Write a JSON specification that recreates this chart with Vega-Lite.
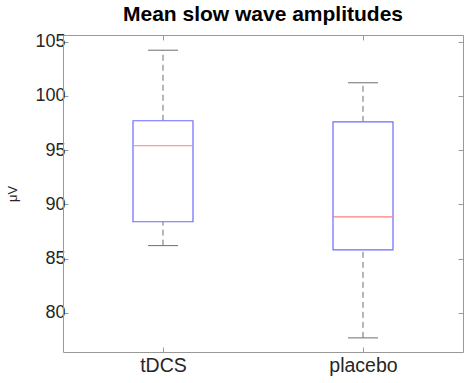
{
  "$schema": "https://vega.github.io/schema/vega-lite/v6.json",
  "width": 400,
  "height": 317,
  "autosize": "none",
  "padding": {"left": 63, "top": 35, "right": 1, "bottom": 31},
  "background": "white",
  "title": {"text": "Mean slow wave amplitudes", "font": "Liberation Sans", "fontSize": 21, "fontWeight": "bold", "color": "#000000", "offset": 8},
  "config": {"view": {"stroke": null}, "font": "Liberation Sans"},
  "data": {"values": [
    {"group": "tDCS", "lower": 86.2, "q1": 88.4, "median": 95.4, "q3": 97.7, "upper": 104.2},
    {"group": "placebo", "lower": 77.7, "q1": 85.8, "median": 88.85, "q3": 97.6, "upper": 101.2}
  ]},
  "resolve": {"axis": {"x": "independent", "y": "independent"}},
  "layer": [
    {
      "layer": [
        {
          "mark": {"type": "rule", "color": "#6e6e6e", "strokeDash": [6, 4], "strokeWidth": 1},
          "encoding": {
            "x": {"field": "group", "type": "nominal", "sort": ["tDCS", "placebo"],
              "scale": {"type": "point", "padding": 0.5},
              "axis": {"title": null, "labelFont": "Liberation Sans", "labelFontSize": 19.5, "labelColor": "#262626", "labelAngle": 0, "labelPadding": 9, "tickSize": -5, "tickColor": "#999999", "domainColor": "#999999", "grid": false}},
            "y": {"field": "lower", "type": "quantitative", "scale": {"domain": [76.4, 105.6], "nice": false, "zero": false},
              "axis": {"title": "μV", "titleFont": "Liberation Sans", "titleFontSize": 13, "titleFontWeight": "normal", "titleColor": "#262626", "titlePadding": 15, "values": [80, 85, 90, 95, 100, 105], "labelFont": "Liberation Sans", "labelFontSize": 18, "labelColor": "#262626", "labelPadding": 3, "tickSize": -5, "tickColor": "#999999", "domainColor": "#999999", "grid": false}},
            "y2": {"field": "q1"}
          }
        },
        {
          "mark": {"type": "rule", "color": "#6e6e6e", "strokeDash": [6, 4], "strokeWidth": 1},
          "encoding": {
            "x": {"field": "group", "type": "nominal", "sort": ["tDCS", "placebo"]},
            "y": {"field": "q3", "type": "quantitative"},
            "y2": {"field": "upper"}
          }
        },
        {
          "mark": {"type": "tick", "color": "#6e6e6e", "size": 30, "thickness": 1, "opacity": 1},
          "encoding": {
            "x": {"field": "group", "type": "nominal", "sort": ["tDCS", "placebo"]},
            "y": {"field": "upper", "type": "quantitative"}
          }
        },
        {
          "mark": {"type": "tick", "color": "#6e6e6e", "size": 30, "thickness": 1, "opacity": 1},
          "encoding": {
            "x": {"field": "group", "type": "nominal", "sort": ["tDCS", "placebo"]},
            "y": {"field": "lower", "type": "quantitative"}
          }
        },
        {
          "mark": {"type": "bar", "size": 60, "fill": "white", "stroke": "#6b6bff", "strokeWidth": 1.2},
          "encoding": {
            "x": {"field": "group", "type": "nominal", "sort": ["tDCS", "placebo"]},
            "y": {"field": "q1", "type": "quantitative"},
            "y2": {"field": "q3"}
          }
        },
        {
          "mark": {"type": "tick", "color": "#ff7f7f", "size": 60, "thickness": 1.2, "opacity": 1},
          "encoding": {
            "x": {"field": "group", "type": "nominal", "sort": ["tDCS", "placebo"]},
            "y": {"field": "median", "type": "quantitative"}
          }
        }
      ]
    },
    {
      "mark": {"type": "rule", "opacity": 0},
      "encoding": {
        "x": {"field": "group", "type": "nominal", "sort": ["tDCS", "placebo"],
          "axis": {"orient": "top", "title": null, "labels": false, "tickSize": -5, "tickColor": "#999999", "domainColor": "#999999", "grid": false}},
        "y": {"field": "median", "type": "quantitative",
          "axis": {"orient": "right", "title": null, "labels": false, "values": [80, 85, 90, 95, 100, 105], "tickSize": -5, "tickColor": "#999999", "domainColor": "#999999", "grid": false}}
      }
    }
  ]
}
